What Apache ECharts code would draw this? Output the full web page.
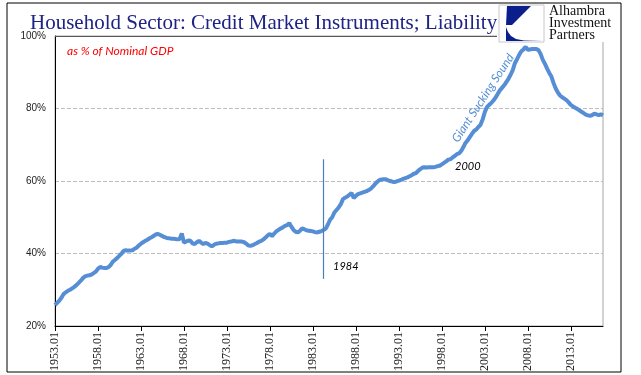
<!DOCTYPE html>
<html>
<head>
<meta charset="utf-8">
<script src="https://cdn.jsdelivr.net/npm/echarts@6/dist/echarts.min.js"></script>
<style>
    html, body { margin: 0; padding: 0; background: #fff; }
    #chart { width: 641px; height: 375px; }
</style>
</head>
<body>
<div id="chart"></div>
<script>
// household credit market debt, % of nominal GDP, quarterly 1953.01 - 2016.04
const firstYear = 1953;
const lastYear = 2016;
const quarterTags = ['01', '02', '03', '04'];
const debtPct = [
    25.8, 26.4, 27.0, 27.8, 28.8, 29.3, 29.7, 30.0,
    30.4, 30.8, 31.3, 31.9, 32.5, 33.2, 33.7, 33.9,
    34.0, 34.2, 34.6, 35.0, 35.8, 36.3, 36.1, 36.0,
    36.0, 36.3, 36.9, 37.8, 38.3, 38.8, 39.4, 40.0,
    40.8, 40.9, 40.8, 40.8, 40.9, 41.3, 41.6, 42.2,
    42.7, 43.1, 43.5, 43.8, 44.2, 44.5, 44.9, 45.3,
    45.4, 45.1, 44.8, 44.5, 44.3, 44.2, 44.1, 44.1,
    44.0, 43.9, 44.0, 45.5, 43.0, 43.3, 43.6, 43.5,
    42.8, 42.6, 43.1, 43.5, 43.0, 42.6, 42.9, 42.7,
    42.3, 42.0, 42.4, 42.7, 42.8, 42.9, 42.9, 43.0,
    43.0, 43.2, 43.3, 43.5, 43.4, 43.3, 43.3, 43.3,
    43.1, 42.7, 42.2, 42.1, 42.3, 42.6, 42.9, 43.3,
    43.5, 43.9, 44.4, 45.0, 45.4, 44.8, 45.5, 46.1,
    46.5, 46.9, 47.2, 47.6, 47.8, 48.4, 47.4, 46.5,
    46.0, 45.8, 46.3, 46.9, 46.7, 46.4, 46.3, 46.2,
    46.1, 45.9, 45.8, 46.0, 46.2, 46.5, 46.9, 48.0,
    49.3, 50.0, 51.3, 52.0, 52.7, 53.6, 55.0, 55.4,
    55.7, 56.2, 56.7, 55.3, 55.9, 56.4, 56.6, 56.8,
    57.0, 57.2, 57.5, 57.9, 58.5, 59.2, 59.8, 60.3,
    60.4, 60.5, 60.5, 60.2, 60.0, 59.8, 59.7, 59.9,
    60.1, 60.3, 60.6, 60.8, 61.0, 61.3, 61.6, 62.0,
    62.2, 62.8, 63.3, 63.7, 63.8, 63.7, 63.8, 63.8,
    63.8, 63.9, 64.1, 64.2, 64.6, 65.0, 65.4, 65.9,
    66.0, 66.5, 66.9, 67.4, 67.6, 68.3, 69.3, 70.5,
    71.2, 72.1, 73.0, 73.8, 74.2, 74.9, 75.5, 77.0,
    79.0, 80.4, 81.0, 81.5, 82.2, 83.0, 84.0, 85.0,
    85.7, 86.4, 87.3, 88.2, 89.3, 90.6, 92.5, 93.6,
    94.8, 95.8, 96.3, 97.0, 96.2, 96.3, 96.4, 96.4,
    96.4, 96.1, 95.0, 93.4, 92.3, 91.0, 89.8, 88.8,
    87.0, 85.5, 84.4, 83.6, 83.1, 82.7, 82.3, 81.7,
    81.0, 80.6, 80.2, 79.9, 79.5, 79.1, 78.7, 78.3,
    78.1, 78.0, 78.2, 78.6, 78.4, 78.2, 78.4, 78.1
];
const yTicks = [20, 40, 60, 80, 100];
const marker1984 = '1984.02'; // vertical marker
const markerSpan = [33, 66];   // its low / high ends, % of GDP

let categories = [];
for (let y = firstYear; y <= lastYear; y++) {
    quarterTags.forEach(q => categories.push(y + '.' + q));
}

const lineColor = '#558ED5';
const logoBlue = '#0b1f8c';
let myChart = echarts.init(document.getElementById('chart'));
let option = {
    animation: false,
    title: {
        text: 'Household Sector: Credit Market Instruments; Liability',
        left: 25,
        top: 8,
        textStyle: {
            fontFamily: 'Liberation Serif',
            fontSize: 21,
            fontWeight: 'normal',
            color: '#1e2385'
        }
    },
    grid: {
        left: 55,
        right: 38,
        top: 36,
        bottom: 49,
        show: true,
        borderColor: '#a6a6a6',
        borderWidth: 1
    },
    xAxis: {
        type: 'category',
        data: categories,
        boundaryGap: false,
        axisLine: { lineStyle: { color: '#000', width: 1 } },
        axisTick: { interval: 19, length: 5, lineStyle: { color: '#000' } },
        axisLabel: {
            interval: 19,
            rotate: 90,
            margin: 6,
            fontFamily: 'Liberation Serif',
            fontSize: 12,
            color: '#222'
        },
        splitLine: { show: false }
    },
    yAxis: {
        type: 'value',
        min: yTicks[0],
        max: yTicks[yTicks.length - 1],
        interval: 20,
        axisLine: { show: true, lineStyle: { color: '#000', width: 1 } },
        axisTick: { show: false },
        axisLabel: {
            formatter: '{value}%',
            margin: 9,
            fontFamily: 'Liberation Sans',
            fontSize: 10,
            color: '#222'
        },
        splitLine: { lineStyle: { color: '#bdbdbd', type: 'dashed', width: 1 } }
    },
    series: [{
        type: 'line',
        data: debtPct,
        symbol: 'none',
        lineStyle: { color: lineColor, width: 4 },
        markLine: {
            silent: true,
            symbol: 'none',
            label: { show: false },
            data: [
                { yAxis: yTicks[yTicks.length - 1], lineStyle: { color: '#595959', type: 'solid', width: 1 } },
                [
                    { coord: [marker1984, markerSpan[0]], lineStyle: { color: '#4a7ebb', type: 'solid', width: 1.2 } },
                    { coord: [marker1984, markerSpan[1]] }
                ]
            ]
        }
    }],
    graphic: [
        // 外框
        {
            type: 'rect',
            shape: { x: 7, y: 3, width: 614, height: 369 },
            style: { fill: 'none', stroke: '#000', lineWidth: 1 },
            z: 0
        },
        {
            type: 'text',
            x: 67, y: 51,
            style: { text: 'as % of Nominal GDP', font: 'italic 12px Lato', fill: '#ff0000', textVerticalAlign: 'middle' },
            z: 10
        },
        {
            type: 'text',
            x: 333, y: 266,
            style: { text: '1984', font: 'italic 11px Lato', fill: '#000', textVerticalAlign: 'middle' },
            z: 10
        },
        {
            type: 'text',
            x: 455, y: 166,
            style: { text: '2000', font: 'italic 11px Lato', fill: '#000', textVerticalAlign: 'middle' },
            z: 10
        },
        {
            type: 'text',
            x: 483, y: 98,
            rotation: 0.99,
            style: { text: 'Giant Sucking Sound', font: 'italic 12px Lato', fill: lineColor, textAlign: 'center', textVerticalAlign: 'middle' },
            z: 10
        },
        // logo
        {
            type: 'rect',
            shape: { x: 497, y: 4, width: 118, height: 38 },
            style: { fill: '#fff' },
            z: 20
        },
        {
            type: 'rect',
            shape: { x: 499, y: 5, width: 45, height: 37 },
            style: { fill: '#fff', stroke: '#c8c8c8', lineWidth: 1 },
            z: 21
        },
        {
            type: 'polygon',
            shape: { points: [[507, 6], [531, 6], [512, 25], [506, 25]] },
            style: { fill: logoBlue },
            z: 22
        },
        {
            type: 'polygon',
            shape: { points: [[506, 27], [508, 32], [511, 36], [516, 39], [524, 40.5], [543, 41], [506, 41]] },
            style: { fill: logoBlue },
            z: 22
        },
        {
            type: 'text',
            x: 549, y: 5,
            style: { text: 'Alhambra\nInvestment\nPartners', font: '14px Liberation Serif', fill: '#111', lineHeight: 12 },
            z: 22
        }
    ]
};
myChart.setOption(option);
</script>
</body>
</html>
